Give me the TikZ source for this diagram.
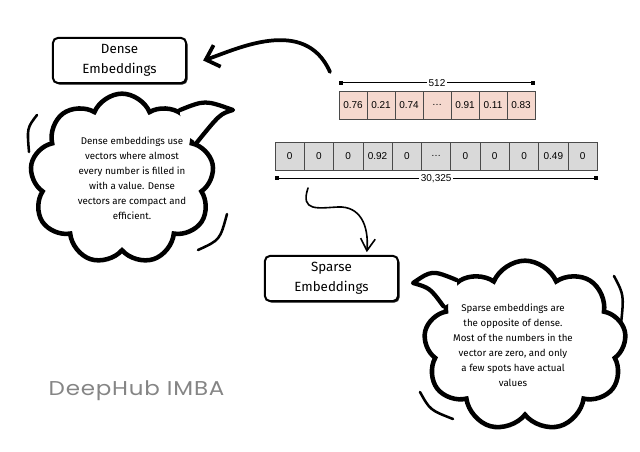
\documentclass[tikz,border=0pt]{standalone}
\usepackage{fontspec}
\setmainfont{Fira Sans}
\newfontfamily\numfont{Liberation Sans}
\newfontfamily\markfont{Poppins}[FakeStretch=1.15,LetterSpace=4]
\usetikzlibrary{arrows.meta,shapes.symbols,shadows,calc}
\definecolor{densepink}{HTML}{F5D8CE}
\definecolor{sparsegray}{HTML}{D9D9D9}
\definecolor{cellline}{HTML}{4A4A4A}
\definecolor{markgray}{HTML}{858585}
\begin{document}
\begin{tikzpicture}[x=0.75pt,y=-0.75pt,line cap=round,
  labelbox/.style={draw,line width=1.5pt,rounded corners=4pt,fill=white,minimum width=100pt,minimum height=34pt,align=center,font=\fontsize{10}{15}\selectfont,drop shadow={shadow xshift=1.1pt,shadow yshift=-1.1pt,fill=black,opacity=0.9}},
  cloudbox/.style={cloud,cloud puffs=9,cloud puff arc=135,cloud ignores aspect,draw,fill=white,line width=3.4pt,inner sep=0pt},
  cloudtext/.style={align=center,font=\fontsize{7.3}{11.25}\selectfont},
  cell/.style={draw=cellline,line width=0.5pt,minimum width=21pt,minimum height=21pt,inner sep=0pt,font=\numfont\fontsize{7.5}{8}\selectfont},
  dcell/.style={cell,fill=densepink},
  scell/.style={cell,fill=sparsegray,minimum width=22pt},
  dimline/.style={line width=0.8pt,{Square[length=3pt,width=3pt]}-{Square[length=3pt,width=3pt]}},
  dimlabel/.style={fill=white,inner sep=1.5pt,font=\numfont\fontsize{7.5}{8}\selectfont},
  tail/.style={line width=3.2pt,line join=round},
  wiggle/.style={line width=1.9pt}]
\useasboundingbox (0,0) rectangle (640,452);
%\draw[step=20,very thin,color=gray] (0,0) grid (640,452);

% boxes
\node[labelbox] (densebox) at (119.5,60.5) {Dense\\Embeddings};
\node[labelbox] (sparsebox) at (331.5,278.5) {Sparse\\Embeddings};

% vectors
\foreach \v [count=\i] in {0.76,0.21,0.74,\dots,0.91,0.11,0.83}
  \node[dcell] (d\i) at ({339+28*\i-14},105) {\v};
\foreach \v [count=\i] in {0,0,0,0.92,0,\dots,0,0,0,0.49,0}
  \node[scell] (s\i) at ({275+29.3*\i-14.65},156) {\v};
\draw[dimline] ([yshift=6pt]d1.north west) -- ([yshift=6pt]d7.north east) node[midway,dimlabel] (dsize) {512};
\draw[dimline] ([yshift=-6pt]s1.south west) -- ([yshift=-6pt]s11.south east) node[midway,dimlabel] (ssize) {30,325};

% arrows
\coordinate (densefrom) at (330,72);
\coordinate (sparsefrom) at (308,188);
\draw[line width=2.8pt,-{Straight Barb[length=9pt,width=17pt]}] (densefrom) .. controls (305,15) and (235,50) .. ([xshift=12pt]densebox.east);
\draw[line width=1.2pt,-{Straight Barb[length=9pt,width=11pt]}] (sparsefrom) .. controls (300,212) and (318,208) .. (338,207) .. controls (360,206) and (369,225) .. ([xshift=26.5pt,yshift=2pt]sparsebox.north);

% dense cloud
\node[cloudbox,minimum width=138pt,minimum height=128pt] (densecloud) at (122,179) {};
\coordinate (densetip) at (233,110);
\fill[white] (densecloud.50) .. controls (205,100) .. (densetip) .. controls (220,114) .. (densecloud.26) -- ($(densecloud.38)!10pt!(densecloud.center)$) -- cycle;
\draw[tail] (densecloud.50) .. controls (205,100) .. (densetip) .. controls (220,114) .. (densecloud.26);
\draw[wiggle] (37,115) .. controls (27,128) .. (29,152);
\draw[wiggle] (198,250) .. controls (220,240) .. (227,214);
\node[cloudtext] (densetext) at (132,178) {Dense embeddings use\\vectors where almost\\every number is filled in\\with a value. Dense\\vectors are compact and\\efficient.};

% sparse cloud
\node[cloudbox,minimum width=152pt,minimum height=128pt] (sparsecloud) at (525,346) {};
\coordinate (sparsetip) at (413,283);
\fill[white] (sparsecloud.136) .. controls (432,270) .. (sparsetip) .. controls (430,288) .. (sparsecloud.154) -- ($(sparsecloud.145)!10pt!(sparsecloud.center)$) -- cycle;
\draw[tail] (sparsecloud.136) .. controls (432,270) .. (sparsetip) .. controls (430,288) .. (sparsecloud.154);
\draw[wiggle] (614,276) .. controls (624,295) .. (621,324);
\draw[wiggle] (420,392) .. controls (430,410) .. (453,419);
\node[cloudtext] (sparsetext) at (513,345) {Sparse embeddings are\\the opposite of dense.\\Most of the numbers in the\\vector are zero, and only\\a few spots have actual\\values};

% brand
\node[anchor=west,text=markgray,font=\markfont\fontsize{15}{18}\selectfont] (brand) at (44,391) {DeepHub IMBA};
\end{tikzpicture}
\end{document}
